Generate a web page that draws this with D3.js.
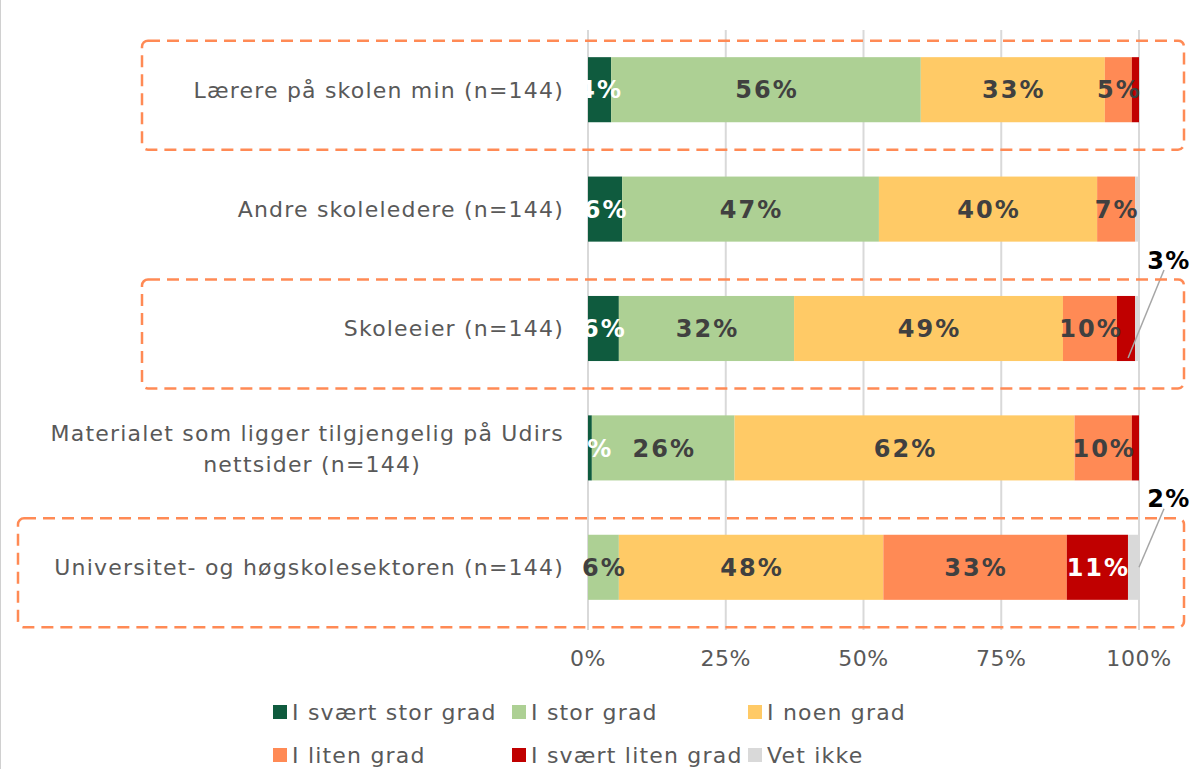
<html lang="no">
<head>
<meta charset="UTF-8">
<title>Stacked bars</title>
<style>
  body { margin: 0; background: #fff; }
  svg text { font-family: "DejaVu Sans", Verdana, sans-serif; }
</style>
</head>
<body>
<script src="https://d3js.org/d3.v7.min.js"></script>
<script>
  // data (percent)
  const categories = [
    "Lærere på skolen min (n=144)",
    "Andre skoleledere (n=144)",
    "Skoleeier (n=144)",
    "Materialet som ligger tilgjengelig på Udirs|nettsider (n=144)",
    "Universitet- og høgskolesektoren (n=144)"
  ]
  const series = ["I svært stor grad", "I stor grad", "I noen grad", "I liten grad", "I svært liten grad", "Vet ikke"]
  const svaertStor = [4.2, 6.2, 5.6, 0.7, 0]
  const stor = [56.2, 46.6, 31.8, 25.9, 5.6]
  const noen = [33.4, 39.6, 48.8, 61.7, 48.0]
  const liten = [4.9, 6.9, 9.8, 10.4, 33.3]
  const svaertLiten = [1.3, 0, 3.3, 1.3, 11.1]
  const vetIkke = [0, 0.7, 0.7, 0, 2.0]
  const xTicks = [0, 25, 50, 75, 100]
  const highlighted = [0, 2, 4]          // rows with dashed frame
  const callouts = [[2, 4], [4, 5]]      // [row, series] labelled outside the bar

  const colors = ["#0f5b3e", "#add094", "#ffca66", "#ff8a55", "#c00000", "#d9d9d9"]

  let width = 1195
  let height = 769

  let svg = d3.select("body").append("svg")
              .attr("width", width)
              .attr("height", height)

  let rows = categories.map(function(c, i) {
    return { cat: c, s0: svaertStor[i], s1: stor[i], s2: noen[i], s3: liten[i], s4: svaertLiten[i], s5: vetIkke[i] }
  })
  let keys = ["s0", "s1", "s2", "s3", "s4", "s5"]
  let stacked = d3.stack().keys(keys)(rows)

  let x = d3.scaleLinear().domain([0, 100]).range([588, 1139])
  let y = d3.scaleBand().domain(categories).range([30, 627])
            .paddingInner(0.455).paddingOuter(0.2275)

  // left border of chart area
  svg.append("line").attr("x1", 0.5).attr("x2", 0.5).attr("y1", 0).attr("y2", height)
     .attr("stroke", "#d0d0d0").attr("stroke-width", 1)

  // gridlines
  svg.append("g").selectAll("line").data(xTicks).enter().append("line")
     .attr("x1", d => x(d)).attr("x2", d => x(d))
     .attr("y1", 30).attr("y2", 630)
     .attr("stroke", "#d9d9d9").attr("stroke-width", 2)

  // tick labels
  svg.append("g").selectAll("text").data(xTicks).enter().append("text")
     .attr("x", d => x(d)).attr("y", 666)
     .attr("text-anchor", "middle")
     .attr("font-size", 22).attr("letter-spacing", 0.6).attr("fill", "#595959")
     .text(d => d + "%")

  // bars
  let layer = svg.append("g").selectAll("g").data(stacked).enter().append("g")
                 .attr("fill", (d, i) => colors[i])
  layer.selectAll("rect").data(d => d).enter().append("rect")
       .attr("x", d => x(d[0]))
       .attr("y", d => y(d.data.cat))
       .attr("width", d => x(d[1]) - x(d[0]))
       .attr("height", y.bandwidth())

  // inline value labels
  let isCallout = (r, k) => callouts.some(c => c[0] === r && c[1] === k)
  stacked.forEach(function(s, k) {
    s.forEach(function(d, r) {
      let v = d[1] - d[0]
      if (v <= 0 || isCallout(r, k)) return
      if (k >= 4 && v < 4) return
      svg.append("text")
         .attr("x", (x(d[0]) + x(d[1])) / 2 + 1)
         .attr("y", y(d.data.cat) + y.bandwidth() / 2)
         .attr("dy", "0.36em")
         .attr("text-anchor", "middle")
         .attr("font-size", 24).attr("font-weight", "bold").attr("letter-spacing", 2)
         .attr("fill", (k === 0 || k === 4) ? "#ffffff" : "#404040")
         .text(Math.round(v) + "%")
    })
  })

  // callouts with leader lines
  callouts.forEach(function(c) {
    let d = stacked[c[1]][c[0]]
    let cy = y(d.data.cat)
    let mx = (x(d[0]) + x(d[1])) / 2
    let tx = x(100) + 30
    svg.append("line")
       .attr("x1", tx - 5).attr("y1", cy - 26)
       .attr("x2", c[1] === 5 ? x(d[1]) : mx + 2)
       .attr("y2", c[1] === 5 ? cy + y.bandwidth() / 2 : cy + y.bandwidth() - 3)
       .attr("stroke", "#a6a6a6").attr("stroke-width", 1.5)
    svg.append("text")
       .attr("x", tx).attr("y", cy - 36)
       .attr("dy", "0.36em")
       .attr("text-anchor", "middle")
       .attr("font-size", 24).attr("font-weight", "bold").attr("letter-spacing", 1.5).attr("fill", "#000")
       .text(Math.round(d[1] - d[0]) + "%")
  })

  // category labels
  let labels = svg.append("g").selectAll("text").data(categories).enter().append("text")
                  .attr("font-size", 22).attr("letter-spacing", 1.2).attr("fill", "#595959")
                  .attr("text-anchor", "end")
  labels.each(function(c) {
    let parts = c.split("|")
    let t = d3.select(this)
    let cy = y(c) + y.bandwidth() / 2
    if (parts.length === 1) {
      t.attr("x", 564).attr("y", cy).attr("dy", "0.36em").text(c)
    } else {
      t.append("tspan").attr("x", 564).attr("y", cy - 15).attr("dy", "0.36em").text(parts[0])
      t.append("tspan").attr("x", 421).attr("y", cy + 16).attr("dy", "0.36em").text(parts[1])
    }
  })

  // dashed highlight frames
  highlighted.forEach(function(r) {
    let cy = y(categories[r]) + y.bandwidth() / 2
    let left = r === 4 ? 18 : 142
    svg.append("rect")
       .attr("x", left).attr("y", cy - 49)
       .attr("width", 1184 - left).attr("height", 109)
       .attr("rx", 6)
       .attr("fill", "none")
       .attr("stroke", "#ff8a55").attr("stroke-width", 2.5)
       .attr("stroke-dasharray", "12 7")
  })

  // legend
  let legendPos = [[273, 712], [512, 712], [748, 712], [273, 755], [512, 755], [748, 755]]
  let legend = svg.append("g").selectAll("g").data(series).enter().append("g")
                  .attr("transform", (d, i) => "translate(" + legendPos[i][0] + "," + legendPos[i][1] + ")")
  legend.append("rect").attr("x", 0).attr("y", -7).attr("width", 14).attr("height", 14)
        .attr("fill", (d, i) => colors[i])
  legend.append("text").attr("x", 19).attr("y", 0).attr("dy", "0.36em")
        .attr("font-size", 22).attr("letter-spacing", 1.2).attr("fill", "#595959")
        .text(d => d)
</script>
</body>
</html>
